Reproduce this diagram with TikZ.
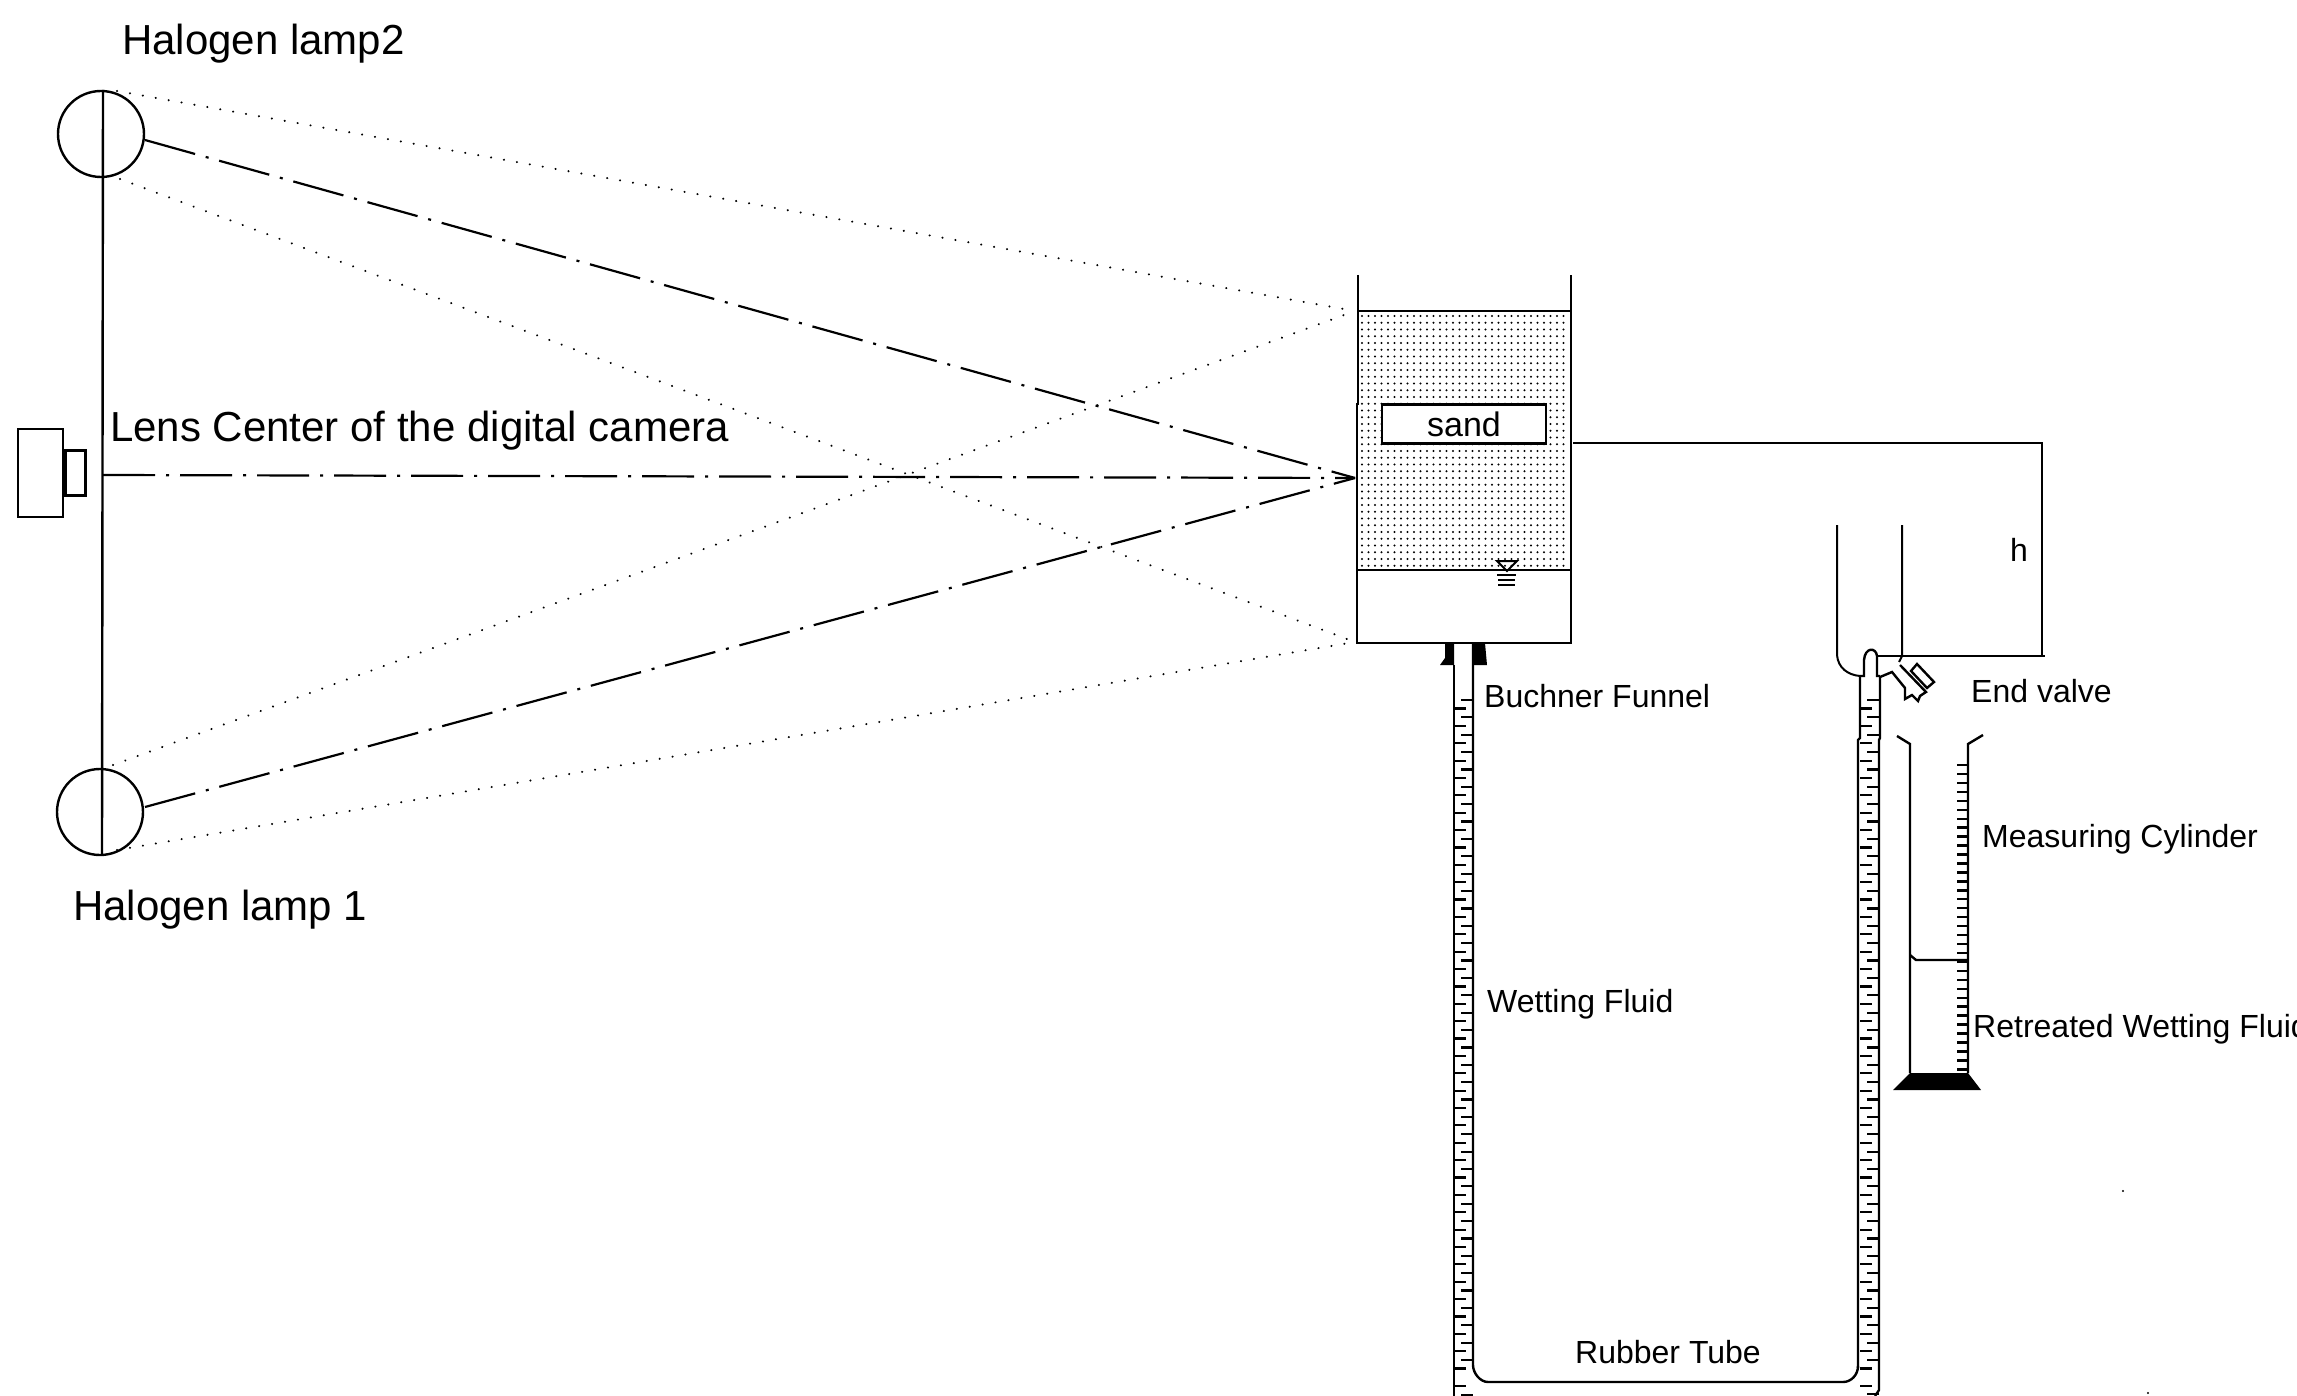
\documentclass[tikz,border=0pt]{standalone}
\usepackage{fontspec}
\setmainfont{Liberation Sans}
\tikzset{
  wall/.style={line width=2.4pt,black},
  thin wall/.style={line width=2pt,black},
  dotline/.style={line width=2.2pt,line cap=round,dash pattern=on 0.1pt off 13pt},
  axisline/.style={line width=2.2pt,dash pattern=on 52pt off 11pt on 3pt off 11pt},
  lamp/.style={circle,draw,line width=2.4pt,minimum size=86pt,inner sep=0pt},
  biglabel/.style={anchor=west,inner sep=0pt,font=\fontsize{42}{46}\selectfont},
  midlabel/.style={anchor=west,inner sep=0pt,font=\fontsize{32}{36}\selectfont},
}
\begin{document}
\begin{tikzpicture}[x=1pt,y=-1pt]
\useasboundingbox (0,0) rectangle (2297,1396);
% sand stipple
\fill[black] foreach \i in {0,...,31} { foreach \j in {0,...,37} {
   ({1362+6.5*\i},{316+6.75*\j}) circle (1.15pt) } };
% lamps
\node[lamp] (lamptwo) at (101,134) {};
\node[lamp] (lampone) at (100,812) {};
\coordinate (focus) at (1355,478);
\coordinate (fsandtop) at (1355,311);
\coordinate (fbottom) at (1355,642);
\coordinate (lens) at (103,475);
\draw[wall] (103,90) -- (102,855);
% camera
\node[draw,line width=2.4pt,minimum width=45pt,minimum height=88pt,inner sep=0pt] (camera) at (40.5,473) {};
\node[draw,line width=2.4pt,minimum width=20pt,minimum height=45pt,inner sep=0pt,anchor=west] (camlens) at (camera.east) {};
% rays
\draw[dotline] (117,91) -- (fsandtop);
\draw[dotline] (120,179) -- (fbottom);
\draw[dotline] (113,765) -- (fsandtop);
\draw[dotline] (117,850) -- (fbottom);
\draw[axisline] (145,140) -- (focus);
\draw[axisline] (145,807) -- (focus);
\draw[axisline] (lens) -- (focus);
% funnel
\draw[wall] (1358,275) -- (1358,404) -- (1357,404) -- (1357,643) -- (1571,643) -- (1571,275);
\draw[wall] (1358,311) -- (1571,311);
\draw[wall] (1358,570) -- (1571,570);
\node[draw,fill=white,line width=2.4pt,minimum width=164pt,minimum height=39pt,inner sep=0pt,font=\fontsize{34}{38}\selectfont] (sand) at (1464,424) {sand};
% water level symbol
\draw[line width=2pt] (1497,561) -- (1517,561) -- (1507,571) -- cycle;
\draw[line width=2pt] (1497,575) -- (1516,575) (1498,580) -- (1515,580) (1498,585) -- (1515,585);
% collar
\fill (1445,643) -- (1454,643) -- (1454,665) -- (1440,665) -- (1445,658) -- cycle;
\fill (1473,643) -- (1485,643) -- (1487,665) -- (1473,665) -- cycle;
% head lines
\coordinate (hleft) at (1573,443);
\coordinate (hcorner) at (2042,443);
\coordinate (hbottom) at (2042,656);
\draw[wall] (hleft) -- (hcorner) -- (hbottom);
\draw[wall] (1877,656) -- (2045,656);
% reservoir
\draw[thin wall] (1837,525) -- (1837,655) .. controls (1838,668) and (1848,675) .. (1860,676);
\draw[thin wall] (1902,525) -- (1902,656) -- (1899,662);
% right tube
\draw[wall] (1860,676) -- (1860,738) -- (1858,740) -- (1858,1368);
\draw[wall] (1880,676) -- (1880,738) -- (1879,740) -- (1879,1390) -- (1875,1396);
\draw[wall] (1860,676) -- (1864,676) -- (1864,660) .. controls (1865,647) and (1876,647) .. (1877,656) -- (1877,676) -- (1880,676);
% valve
\draw[wall] (1880,677) -- (1892,672) -- (1905,688) -- (1905,699) -- (1912,695) -- (1918,701) -- (1920,696) -- (1926,692) -- (1900,665);
\draw[wall] (1917,664) -- (1934,682) -- (1927,688) -- (1911,671) -- cycle;
% left tube
\draw[wall] (1454,665) -- (1454,1396);
\draw[wall] (1473,643) -- (1473,1365) .. controls (1473,1373) and (1480,1382) .. (1488,1382)
  -- (1843,1382) .. controls (1851,1382) and (1858,1375) .. (1858,1366);
% tube ticks
\foreach \k in {0,...,38} {
  \pgfmathsetmacro{\ya}{700+17.37*\k}
  \draw[line width=2.2pt] (1473,\ya) -- (1461,\ya);
  \draw[line width=2.2pt] (1879,\ya) -- (1867,\ya);
}
\foreach \k in {0,...,39} {
  \pgfmathsetmacro{\yb}{708.5+17.37*\k}
  \draw[line width=2.2pt] (1454,\yb) -- (1466,\yb);
  \draw[line width=2.2pt] (1860,\yb) -- (1872,\yb);
}
\draw[line width=2.2pt] (1461,1395) -- (1473,1395);
\draw[line width=2.2pt] (1867,1394) -- (1879,1394);
% measuring cylinder
\draw[wall] (1897,736) -- (1910,744) -- (1910,1073);
\draw[wall] (1983,735) -- (1968,744) -- (1968,1073);
\fill (1910,1073) -- (1968,1073) -- (1981,1090) -- (1893,1090) -- cycle;
\draw[wall] (1910,955) -- (1916,960) -- (1968,960);
\foreach \k in {0,...,34} {
  \pgfmathsetmacro{\yc}{765+8.95*\k}
  \draw[line width=2.4pt] (1957,\yc) -- (1968,\yc);
}
% labels
\node[biglabel] (ltwo) at (122,44) {Halogen lamp2};
\node[biglabel] (lone) at (73,910) {Halogen lamp 1};
\node[biglabel] (llens) at (110,431) {Lens Center of the digital camera};
\node[midlabel] (lbuch) at (1484,696) {Buchner Funnel};
\node[midlabel] (lwet) at (1487,1004) {Wetting Fluid};
\node[midlabel] (lrub) at (1575,1352) {Rubber Tube};
\node[midlabel] (lend) at (1971,691) {End valve};
\node[midlabel] (lmeas) at (1982,839) {Measuring Cylinder};
\node[midlabel] (lret) at (1973,1029) {Retreated Wetting Fluid};
\node[midlabel] (lh) at (2010,550) {h};
% specks
\fill (2123,1191) circle (1.2pt);
\fill (2148,1393) circle (1.2pt);
\end{tikzpicture}
\end{document}
